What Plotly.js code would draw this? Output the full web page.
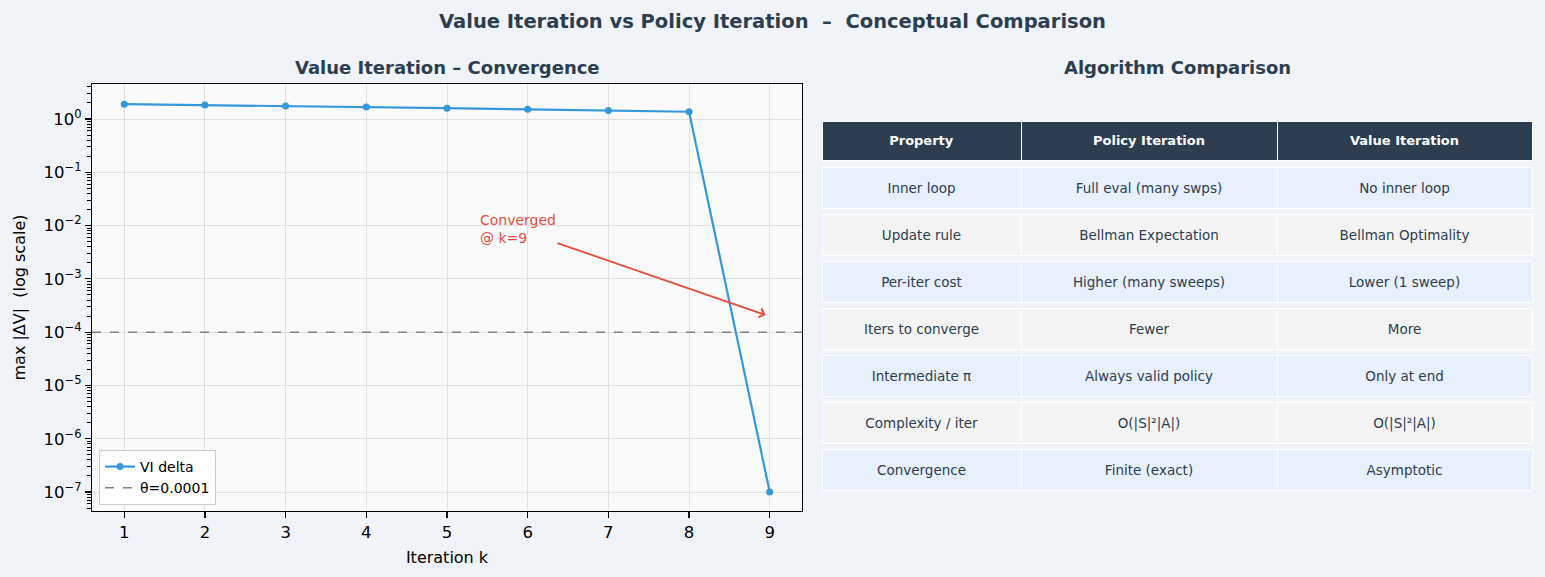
<!DOCTYPE html>
<html>
<head>
<meta charset="utf-8">
<script src="https://cdn.plot.ly/plotly-3.0.1.min.js"></script>
<style>html,body{margin:0;padding:0;background:#f0f3f8;}</style>
</head>
<body>
<div id="chart" style="width:1545px;height:577px;"></div>
<script>
// ---------- data ----------
const iterations = [1, 2, 3, 4, 5, 6, 7, 8, 9];
const viDelta = [1.90, 1.83, 1.75, 1.68, 1.60, 1.52, 1.44, 1.37, 1e-7];
const theta = 1e-4;
const yTickVals = [1e-7, 1e-6, 1e-5, 1e-4, 1e-3, 1e-2, 1e-1, 1];
const yTickText = ['10<sup>−7</sup>', '10<sup>−6</sup>', '10<sup>−5</sup>', '10<sup>−4</sup>',
                   '10<sup>−3</sup>', '10<sup>−2</sup>', '10<sup>−1</sup>', '10<sup>0</sup>'];
const annotPoint = [8.95, 2.1e-4];
const annotTextPos = [5.88, 8.45e-3];

const tableHeader = ['Property', 'Policy Iteration', 'Value Iteration'];
const properties = ['Inner loop', 'Update rule', 'Per-iter cost', 'Iters to converge',
                    'Intermediate π', 'Complexity / iter', 'Convergence'];
const policyIteration = ['Full eval (many swps)', 'Bellman Expectation', 'Higher (many sweeps)',
                         'Fewer', 'Always valid policy', 'O(|S|²|A|)', 'Finite (exact)'];
const valueIteration = ['No inner loop', 'Bellman Optimality', 'Lower (1 sweep)',
                        'More', 'Only at end', 'O(|S|²|A|)', 'Asymptotic'];

// ---------- geometry helpers ----------
const W = 1545, H = 577;
const M = {l: 92, r: 13, t: 84, b: 66};
const PW = W - M.l - M.r, PH = H - M.t - M.b;
const px = x => (x - M.l) / PW;
const py = y => (H - M.b - y) / PH;

const FONT = 'DejaVu Sans, Verdana, sans-serif';
const DARK = '#2c3e50';
const TBL_X = [px(822), px(1532)];
const COLW = [199, 256, 255];

const traces = [];
traces.push({
  type: 'scatter', mode: 'lines+markers',
  x: iterations, y: viDelta, name: 'VI delta',
  line: {color: '#3498db', width: 2.2},
  marker: {color: '#3498db', size: 7},
  xaxis: 'x', yaxis: 'y'
});

// one table row = a fill layer plus a text layer (text vertically centred)
function addRow(values, top, h, fill, font, textShift) {
  traces.push({
    type: 'table', domain: {x: TBL_X, y: [py(top + h + 1), py(top)]},
    columnwidth: COLW,
    header: {values: values.map(() => ' '), height: h, fill: {color: fill},
             line: {color: '#ffffff', width: 1}, font: font},
    cells: {values: []}
  });
  traces.push({
    type: 'table', domain: {x: TBL_X, y: [py(top + h + 1), py(top + textShift)]},
    columnwidth: COLW,
    header: {values: values, height: h - textShift, align: 'center',
             fill: {color: 'rgba(0,0,0,0)'}, line: {color: 'rgba(0,0,0,0)', width: 0}, font: font},
    cells: {values: []}
  });
}

const rowFills = ['#e8f0fe', '#f4f4f4'];
addRow(tableHeader.map(h => '<b>' + h + '</b>'), 121.5, 39, DARK,
       {family: FONT, size: 13, color: '#ffffff'}, 3.5);
properties.forEach((p, i) => {
  addRow([p, policyIteration[i], valueIteration[i]], 167.5 + i * 47, 41, rowFills[i % 2],
         {family: FONT, size: 13.5, color: DARK}, 7);
});

const layout = {
  width: W, height: H,
  margin: M,
  paper_bgcolor: '#f0f3f8',
  plot_bgcolor: '#fafafa',
  font: {family: FONT, color: '#000'},
  title: {
    text: '<b>Value Iteration vs Policy Iteration \u00a0–\u00a0 Conceptual Comparison</b>',
    font: {family: FONT, size: 19.5, color: DARK},
    x: 0.5, xref: 'container', xanchor: 'center',
    y: 1 - 21 / H, yref: 'container', yanchor: 'middle'
  },
  showlegend: true,
  legend: {
    x: px(99), y: py(505), xanchor: 'left', yanchor: 'bottom',
    bgcolor: '#ffffff', bordercolor: '#cccccc', borderwidth: 1,
    font: {family: FONT, size: 14, color: '#000'}
  },
  xaxis: {
    domain: [0, px(802)], range: [0.6, 9.4],
    tickvals: iterations, ticks: 'outside', ticklen: 6, tickwidth: 1.2, tickcolor: '#000',
    tickfont: {family: FONT, size: 16.5, color: '#000'},
    showline: true, mirror: true, linecolor: '#000', linewidth: 1.2,
    showgrid: true, gridcolor: '#e0e0e0', gridwidth: 1, zeroline: false,
    title: {text: 'Iteration k', standoff: 10, font: {family: FONT, size: 16, color: '#000'}}
  },
  yaxis: {
    type: 'log', domain: [0, 1], range: [-7.356, 0.657],
    tickvals: yTickVals, ticktext: yTickText,
    ticks: 'outside', ticklen: 6, tickwidth: 1.2, tickcolor: '#000',
    tickfont: {family: FONT, size: 16.5, color: '#000'},
    minor: {ticks: 'outside', ticklen: 3.5, tickwidth: 1, tickcolor: '#000', dtick: 'D1', showgrid: false},
    showline: true, mirror: true, linecolor: '#000', linewidth: 1.2,
    showgrid: true, gridcolor: '#e0e0e0', gridwidth: 1, zeroline: false,
    title: {text: 'max |ΔV| \u00a0(log scale)', standoff: 13, font: {family: FONT, size: 16, color: '#000'}}
  },
  shapes: [{
    type: 'line', xref: 'x domain', x0: 0, x1: 1, yref: 'y', y0: theta, y1: theta,
    line: {color: '#808080', width: 1.5, dash: 'dash'},
    showlegend: true, name: 'θ=0.0001'
  }],
  annotations: [
    {
      text: '<b>Value Iteration – Convergence</b>', xref: 'paper', yref: 'paper',
      x: px(447), y: py(68), xanchor: 'center', yanchor: 'middle', showarrow: false,
      font: {family: FONT, size: 18, color: DARK}
    },
    {
      text: '<b>Algorithm Comparison</b>', xref: 'paper', yref: 'paper',
      x: px(1177), y: py(68), xanchor: 'center', yanchor: 'middle', showarrow: false,
      font: {family: FONT, size: 18, color: DARK}
    },
    {
      text: 'Converged<br>@ k=9', align: 'left',
      xref: 'x', yref: 'y', x: annotPoint[0], y: Math.log10(annotPoint[1]),
      axref: 'x', ayref: 'y', ax: annotTextPos[0], ay: Math.log10(annotTextPos[1]),
      showarrow: true, arrowhead: 4, arrowsize: 1, arrowwidth: 1.8, arrowcolor: '#e74c3c',
      font: {family: FONT, size: 14, color: '#e74c3c'}
    }
  ]
};

Plotly.newPlot('chart', traces, layout, {displayModeBar: false, staticPlot: true});
</script>
</body>
</html>
